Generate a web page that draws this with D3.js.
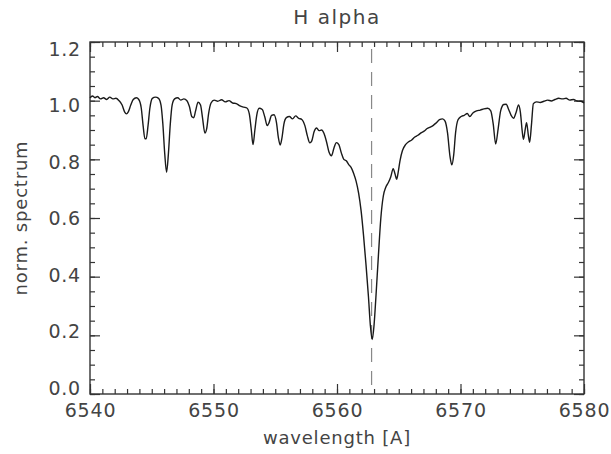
<!DOCTYPE html>
<html>
<head>
<meta charset="utf-8">
<script src="https://cdn.jsdelivr.net/npm/d3@7"></script>
<style>
  html, body { margin: 0; padding: 0; background: #fff; }
  svg text { font-family: "DejaVu Sans", "Liberation Sans", sans-serif; fill: #444; }
</style>
</head>
<body>
<svg id="chart" width="611" height="454"></svg>
<script>
// ---- data ----
const chartTitle = "H alpha";
const xLabel = "wavelength [A]";
const yLabel = "norm. spectrum";
const xTickValues = [6540, 6550, 6560, 6570, 6580];
const yTickValues = [0.0, 0.2, 0.4, 0.6, 0.8, 1.0, 1.2];
const hAlphaWavelength = 6562.8;

// [wavelength (A), normalised flux]
const spectrum = [
  [6540.0, 1.010], [6540.2, 1.016], [6540.4, 1.010], [6540.6, 1.014], [6540.85, 1.006],
  [6541.1, 1.010], [6541.35, 1.004], [6541.6, 1.012], [6541.85, 1.006], [6542.1, 1.008],
  [6542.35, 1.000], [6542.6, 0.985], [6542.8, 0.962], [6542.95, 0.955], [6543.1, 0.962],
  [6543.3, 0.985], [6543.5, 1.004], [6543.75, 1.010], [6543.95, 1.004], [6544.15, 0.975],
  [6544.3, 0.915], [6544.45, 0.870], [6544.55, 0.870], [6544.7, 0.915], [6544.85, 0.975],
  [6545.05, 1.008], [6545.3, 1.012], [6545.55, 1.008], [6545.75, 0.985], [6545.9, 0.920],
  [6546.05, 0.820], [6546.2, 0.756], [6546.35, 0.820], [6546.5, 0.920], [6546.65, 0.985],
  [6546.85, 1.006], [6547.1, 1.010], [6547.35, 1.002], [6547.6, 1.006], [6547.85, 1.000],
  [6548.05, 0.980], [6548.25, 0.945], [6548.4, 0.942], [6548.55, 0.965], [6548.75, 0.995],
  [6548.95, 0.985], [6549.1, 0.945], [6549.3, 0.890], [6549.45, 0.905], [6549.6, 0.955],
  [6549.8, 0.992], [6550.05, 1.002], [6550.35, 0.998], [6550.65, 1.003], [6550.95, 0.996],
  [6551.25, 1.000], [6551.55, 0.992], [6551.85, 0.990], [6552.15, 0.982], [6552.45, 0.978],
  [6552.7, 0.975], [6552.9, 0.955], [6553.05, 0.905], [6553.2, 0.850], [6553.35, 0.900],
  [6553.5, 0.950], [6553.7, 0.974], [6553.95, 0.970], [6554.15, 0.945], [6554.35, 0.915],
  [6554.5, 0.925], [6554.7, 0.950], [6554.9, 0.952], [6555.1, 0.925], [6555.25, 0.875],
  [6555.4, 0.849], [6555.55, 0.875], [6555.7, 0.920], [6555.9, 0.942], [6556.15, 0.946],
  [6556.4, 0.938], [6556.65, 0.948], [6556.9, 0.940], [6557.15, 0.936], [6557.4, 0.915],
  [6557.6, 0.880], [6557.8, 0.856], [6557.95, 0.862], [6558.15, 0.895], [6558.35, 0.907],
  [6558.55, 0.898], [6558.75, 0.900], [6558.95, 0.888], [6559.15, 0.860], [6559.35, 0.825],
  [6559.55, 0.812], [6559.75, 0.838], [6559.95, 0.857], [6560.15, 0.850], [6560.35, 0.822],
  [6560.55, 0.800], [6560.75, 0.795], [6560.95, 0.782], [6561.15, 0.772], [6561.35, 0.752],
  [6561.55, 0.725], [6561.75, 0.685], [6561.95, 0.625], [6562.15, 0.540], [6562.35, 0.440],
  [6562.55, 0.330], [6562.7, 0.235], [6562.85, 0.186], [6563.0, 0.235], [6563.15, 0.330],
  [6563.35, 0.470], [6563.55, 0.600], [6563.75, 0.675], [6563.95, 0.705], [6564.15, 0.720],
  [6564.35, 0.740], [6564.55, 0.768], [6564.7, 0.750], [6564.83, 0.732], [6564.95, 0.755],
  [6565.1, 0.795], [6565.3, 0.830], [6565.55, 0.850], [6565.8, 0.860], [6566.05, 0.866],
  [6566.3, 0.876], [6566.55, 0.882], [6566.8, 0.890], [6567.05, 0.896], [6567.3, 0.905],
  [6567.55, 0.910], [6567.8, 0.916], [6568.05, 0.925], [6568.3, 0.935], [6568.55, 0.938],
  [6568.75, 0.930], [6568.95, 0.890], [6569.15, 0.810], [6569.3, 0.781], [6569.45, 0.815],
  [6569.6, 0.890], [6569.8, 0.935], [6570.05, 0.946], [6570.3, 0.950], [6570.55, 0.956],
  [6570.75, 0.946], [6571.0, 0.958], [6571.3, 0.965], [6571.6, 0.968], [6571.9, 0.972],
  [6572.2, 0.974], [6572.45, 0.965], [6572.65, 0.920], [6572.85, 0.852], [6573.05, 0.905],
  [6573.25, 0.965], [6573.5, 0.987], [6573.7, 0.988], [6573.9, 0.970], [6574.1, 0.950],
  [6574.3, 0.940], [6574.5, 0.960], [6574.7, 0.985], [6574.85, 0.960], [6575.0, 0.895],
  [6575.1, 0.868], [6575.25, 0.905], [6575.35, 0.925], [6575.5, 0.880], [6575.6, 0.858],
  [6575.75, 0.920], [6575.9, 0.990], [6576.15, 0.996], [6576.45, 0.994], [6576.75, 0.998],
  [6577.05, 1.002], [6577.35, 0.999], [6577.65, 1.004], [6577.95, 1.008], [6578.25, 1.006],
  [6578.55, 1.008], [6578.85, 1.002], [6579.15, 1.004], [6579.45, 0.999], [6579.75, 0.998],
  [6580.0, 0.992]
];

// ---- layout ----
const svg = d3.select("#chart");
const mLeft = 90, mRight = 584, mTop = 42, mBottom = 394;
const axisColor = "#333";

const x = d3.scaleLinear().domain([6540, 6580]).range([mLeft, mRight]);
const y = d3.scaleLinear().domain([0, 1.2]).range([mBottom, mTop]);
// y tick labels in the reference sit slightly inside the frame ends
const yLabelPos = d3.scaleLinear().domain([0, 1.2]).range([mBottom - 6, mTop + 7]);

const xMinor = d3.range(6540, 6580.001, 1);
const yMinor = d3.range(0, 1.2001, 0.05);

// frame
svg.append("rect")
  .attr("x", mLeft).attr("y", mTop)
  .attr("width", mRight - mLeft).attr("height", mBottom - mTop)
  .attr("fill", "none").attr("stroke", axisColor).attr("stroke-width", 1.4);

// axes with inward ticks (IDL style), all four sides
function addAxis(axisGen, transform) {
  const g = svg.append("g").attr("transform", transform).call(axisGen);
  g.select(".domain").remove();
  g.selectAll(".tick line").attr("stroke", axisColor).attr("stroke-width", 1.2);
  g.selectAll("text").remove();
  return g;
}
addAxis(d3.axisTop(x).tickValues(xMinor).tickSize(5), `translate(0,${mBottom})`);
addAxis(d3.axisTop(x).tickValues(xTickValues).tickSize(10), `translate(0,${mBottom})`);
addAxis(d3.axisBottom(x).tickValues(xMinor).tickSize(5), `translate(0,${mTop})`);
addAxis(d3.axisBottom(x).tickValues(xTickValues).tickSize(10), `translate(0,${mTop})`);
addAxis(d3.axisRight(y).tickValues(yMinor).tickSize(5), `translate(${mLeft},0)`);
addAxis(d3.axisRight(y).tickValues(yTickValues).tickSize(10), `translate(${mLeft},0)`);
addAxis(d3.axisLeft(y).tickValues(yMinor).tickSize(5), `translate(${mRight},0)`);
addAxis(d3.axisLeft(y).tickValues(yTickValues).tickSize(10), `translate(${mRight},0)`);

// tick labels
const xLab = svg.append("g").attr("transform", `translate(0,${mBottom})`)
  .call(d3.axisBottom(x).tickValues(xTickValues).tickSize(0).tickPadding(10).tickFormat(d3.format("d")));
xLab.select(".domain").remove();
xLab.selectAll("text").attr("font-size", 19).attr("fill", "#444").attr("letter-spacing", 0.8)
  .style("font-family", "'DejaVu Sans', sans-serif");

const yLab = svg.append("g").attr("transform", `translate(${mLeft},0)`)
  .call(d3.axisLeft(yLabelPos).tickValues(yTickValues).tickSize(0).tickPadding(9).tickFormat(d3.format(".1f")));
yLab.select(".domain").remove();
yLab.selectAll("text").attr("font-size", 19).attr("fill", "#444").attr("letter-spacing", 0.8)
  .style("font-family", "'DejaVu Sans', sans-serif");

// H-alpha dashed marker
svg.append("line")
  .attr("x1", x(hAlphaWavelength)).attr("x2", x(hAlphaWavelength))
  .attr("y1", y(1.2)).attr("y2", y(0))
  .attr("stroke", "#888").attr("stroke-width", 1.2)
  .attr("stroke-dasharray", "14,9").attr("stroke-dashoffset", -7);

// spectrum
const line = d3.line().x(d => x(d[0])).y(d => y(d[1])).curve(d3.curveMonotoneX);
svg.append("path")
  .datum(spectrum)
  .attr("d", line)
  .attr("fill", "none")
  .attr("stroke", "#1a1a1a")
  .attr("stroke-width", 1.4)
  .attr("stroke-linejoin", "round");

// titles
svg.append("text")
  .attr("x", (mLeft + mRight) / 2).attr("y", 24)
  .attr("text-anchor", "middle").attr("font-size", 20)
  .attr("letter-spacing", 1.5)
  .text(chartTitle);

svg.append("text")
  .attr("x", (mLeft + mRight) / 2).attr("y", 444)
  .attr("text-anchor", "middle").attr("font-size", 18)
  .attr("letter-spacing", 0.8)
  .text(xLabel);

svg.append("text")
  .attr("transform", `translate(27,${(mTop + mBottom) / 2}) rotate(-90)`)
  .attr("text-anchor", "middle").attr("font-size", 18)
  .attr("letter-spacing", 0.8)
  .text(yLabel);
</script>
</body>
</html>
